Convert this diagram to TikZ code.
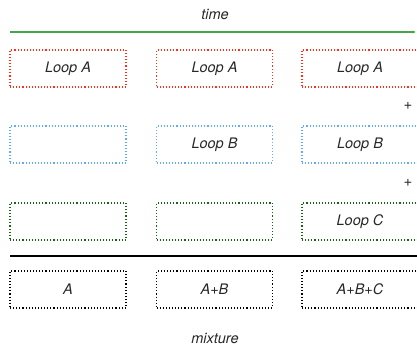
\documentclass[tikz,border=0pt]{standalone}
\usepackage{fontspec}
\setmainfont{TeX Gyre Heros}
\usetikzlibrary{arrows.meta}
\definecolor{loopred}{RGB}{255,45,25}
\definecolor{loopblue}{RGB}{95,170,250}
\definecolor{loopgreen}{RGB}{25,100,25}
\definecolor{timegreen}{RGB}{70,165,70}
\definecolor{txtgray}{RGB}{40,40,40}
\begin{document}
\begin{tikzpicture}[x=1pt,y=1pt]
\tikzset{
	piste/.style={dotted, line width=1.1pt, minimum width=116pt, minimum height=37pt,
		inner sep=0pt, font=\fontsize{14.5}{16}\selectfont\itshape, text=txtgray},
	legende/.style={font=\fontsize{14.5}{16}\selectfont\itshape, text=txtgray},
	plus/.style={font=\fontsize{15}{16}\selectfont, text=txtgray}
}
\useasboundingbox (0,0) rectangle (417,-350);

 % axe du temps
  \node[legende] (temps) at (215,-14) {time};
  \coordinate (t0) at (10,-32);
  \coordinate (t1) at (416,-32);
  \draw[timegreen, line width=1.4pt, -{Latex[length=3.5pt,width=3.5pt]}] (t0) -- (t1);

 % les boucles
  \node[piste, draw=loopred] (a1) at (68,-68.5) {Loop A};
  \node[piste, draw=loopred] (a2) at (214.5,-68.5) {Loop A};
  \node[piste, draw=loopred] (a3) at (360,-68.5) {Loop A};

  \node[piste, draw=loopblue] (b1) at (68,-144.5) {};
  \node[piste, draw=loopblue] (b2) at (214.5,-144.5) {Loop B};
  \node[piste, draw=loopblue] (b3) at (360,-144.5) {Loop B};

  \node[piste, draw=loopgreen] (c1) at (68,-221.5) {};
  \node[piste, draw=loopgreen] (c2) at (214.5,-221.5) {};
  \node[piste, draw=loopgreen] (c3) at (360,-221.5) {Loop C};

  \node[plus] (p1) at (408,-106) {+};
  \node[plus] (p2) at (408,-183) {+};

 % le mélange
  \coordinate (s0) at (10,-256);
  \coordinate (s1) at (417,-256);
  \draw[line width=1.3pt] (s0) -- (s1);

  \node[piste, draw=black] (m1) at (68,-289.5) {A};
  \node[piste, draw=black] (m2) at (214.5,-289.5) {A+B};
  \node[piste, draw=black] (m3) at (360,-289.5) {A+B+C};

  \node[legende] (melange) at (215,-338) {mixture};
\end{tikzpicture}
\end{document}
